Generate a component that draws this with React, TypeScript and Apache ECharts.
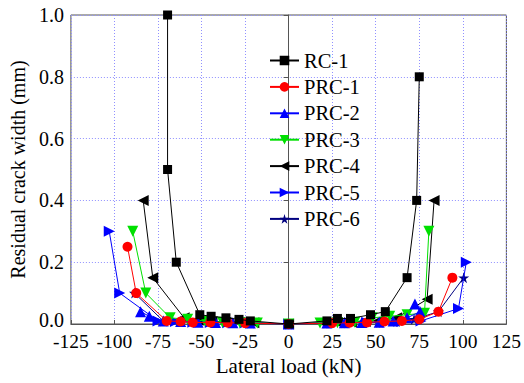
import React, { useEffect, useRef } from "react";
import * as echarts from "echarts";

const xTicks = [-125, -100, -75, -50, -25, 0, 25, 50, 75, 100, 125];
const yTicks = [0, 0.2, 0.4, 0.6, 0.8, 1.0];

const rc1X = [-69.5, -69.5, -64.5, -51, -44.5, -36, -28.5, -22, 0, 22, 28, 35.5, 47, 55.5, 68, 73.5, 75];
const rc1Y = [1.0, 0.5, 0.2, 0.03, 0.025, 0.02, 0.015, 0.01, 0, 0.01, 0.018, 0.018, 0.03, 0.04, 0.15, 0.4, 0.8];

const prc1X = [-92.5, -87.5, -70, -62, -55, -45, -35, -25, 0, 25, 35, 45, 55, 65, 75, 86, 94];
const prc1Y = [0.25, 0.1, 0.01, 0.008, 0.005, 0.005, 0.004, 0.003, 0, 0.003, 0.004, 0.005, 0.008, 0.01, 0.015, 0.04, 0.15];

const prc2X = [-85, -80, -72, -62, -52, -42, -32, -22, 0, 22, 32, 42, 52, 60, 68, 75.5, 72.5];
const prc2Y = [0.04, 0.025, 0.01, 0.008, 0.006, 0.005, 0.004, 0.003, 0, 0.003, 0.004, 0.005, 0.006, 0.01, 0.02, 0.04, 0.065];

const prc3X = [-89.5, -82, -68, -58, -48, -38, -28, -18, 0, 18, 28, 38, 48, 58, 68, 78, 80.5];
const prc3Y = [0.3, 0.1, 0.02, 0.015, 0.01, 0.006, 0.004, 0.003, 0, 0.003, 0.004, 0.006, 0.02, 0.025, 0.03, 0.035, 0.3];

const prc4X = [-83.5, -78, -60, -52, -44, -36, -28, -20, 0, 20, 28, 36, 44, 52, 62, 79.5, 83.5];
const prc4Y = [0.4, 0.15, 0.02, 0.012, 0.008, 0.006, 0.005, 0.004, 0, 0.004, 0.005, 0.006, 0.008, 0.012, 0.02, 0.08, 0.4];

const prc5X = [-103, -97, -75, -65, -55, -45, -35, -25, 0, 25, 35, 45, 55, 65, 76, 97.5, 102];
const prc5Y = [0.3, 0.1, 0.01, 0.008, 0.006, 0.005, 0.004, 0.003, 0, 0.003, 0.004, 0.005, 0.006, 0.008, 0.01, 0.05, 0.2];

const prc6X = [-88.5, -72, -62, -52, -42, -32, -22, 0, 22, 32, 42, 52, 62, 72, 86, 100.5];
const prc6Y = [0.1, 0.01, 0.008, 0.006, 0.005, 0.004, 0.003, 0, 0.003, 0.004, 0.005, 0.006, 0.008, 0.015, 0.04, 0.15];

const names = ["RC-1", "PRC-1", "PRC-2", "PRC-3", "PRC-4", "PRC-5", "PRC-6"];
const colors = ["#000000", "#ff0000", "#0000ff", "#00e000", "#000000", "#0000ff", "#000080"];

const STAR = "path://M50,0 L61,35 L98,35 L68,57 L79,91 L50,70 L21,91 L32,57 L2,35 L39,35 Z";
const LEFT = "path://M0,50 L100,0 L100,100 Z";
const RIGHT = "path://M100,50 L0,0 L0,100 Z";
const DOWN = "path://M0,0 L100,0 L50,87 Z";
const symbols = ["rect", "circle", "triangle", DOWN, LEFT, RIGHT, STAR];
const sizes = [9, 10, 11, 11, 11, 11, 11];

const xs = [rc1X, prc1X, prc2X, prc3X, prc4X, prc5X, prc6X];
const ys = [rc1Y, prc1Y, prc2Y, prc3Y, prc4Y, prc5Y, prc6Y];

const FONT = "Liberation Serif";

export default function App() {
  const ref = useRef<HTMLDivElement>(null);
  useEffect(() => {
    if (!ref.current) return;
    const chart = echarts.init(ref.current, null, { renderer: "svg" });
    const series = names.map((n, i) => ({
      name: n,
      type: "line",
      data: xs[i].map((x, j) => [x, ys[i][j]]),
      symbol: symbols[i],
      symbolSize: sizes[i],
      showAllSymbol: true,
      lineStyle: { color: colors[i], width: 1 },
      itemStyle: { color: colors[i] },
      z: 10 - i,
    }));
    chart.setOption({
      animation: false,
      backgroundColor: "#ffffff",
      textStyle: { fontFamily: FONT, color: "#000" },
      grid: { left: 70, right: 17, top: 15, bottom: 59, show: true, borderColor: "#555", borderWidth: 1 },
      legend: {
        orient: "vertical",
        left: 264,
        top: 45,
        itemWidth: 29,
        itemHeight: 12,
        itemGap: 5.4,
        data: names,
        textStyle: { fontFamily: FONT, fontSize: 20.5, lineHeight: 20, color: "#000" },
      },
      xAxis: {
        type: "value",
        min: xTicks[0],
        max: xTicks[xTicks.length - 1],
        interval: 25,
        name: "Lateral load (kN)",
        nameLocation: "middle",
        nameGap: 31,
        nameTextStyle: { fontFamily: FONT, fontSize: 21, color: "#000" },
        axisLine: { onZero: false, lineStyle: { color: "#555" } },
        axisTick: { inside: true, length: 4, lineStyle: { color: "#555" } },
        axisLabel: { fontFamily: FONT, fontSize: 19.5, lineHeight: 14, color: "#000", margin: 10 },
        splitLine: { show: true, lineStyle: { color: "#9090ff", type: [1, 2], width: 1 } },
      },
      yAxis: {
        type: "value",
        min: yTicks[0],
        max: yTicks[yTicks.length - 1],
        interval: 0.2,
        name: "Residual crack width (mm)",
        nameLocation: "middle",
        nameGap: 42,
        nameTextStyle: { fontFamily: FONT, fontSize: 20, color: "#000" },
        axisLine: { show: true, lineStyle: { color: "#555" } },
        axisTick: { show: true, inside: false, length: 5, lineStyle: { color: "#555" } },
        axisLabel: {
          fontFamily: FONT,
          fontSize: 20,
          lineHeight: 14,
          color: "#000",
          margin: 7,
          formatter: (v: number) => (v === 0 ? "{z|0.0}" : v.toFixed(1)),
          rich: { z: { fontFamily: FONT, fontSize: 20, lineHeight: 14, color: "#000", padding: [0, 0, 8, 0] } },
        },
        splitLine: { show: true, lineStyle: { color: "#9090ff", type: [1, 2], width: 1 } },
      },
      series,
    });
    return () => chart.dispose();
  }, []);
  return (
    <div
      ref={ref}
      style={{ position: "fixed", left: 0, top: 0, width: 524, height: 383, background: "#fff" }}
    />
  );
}
